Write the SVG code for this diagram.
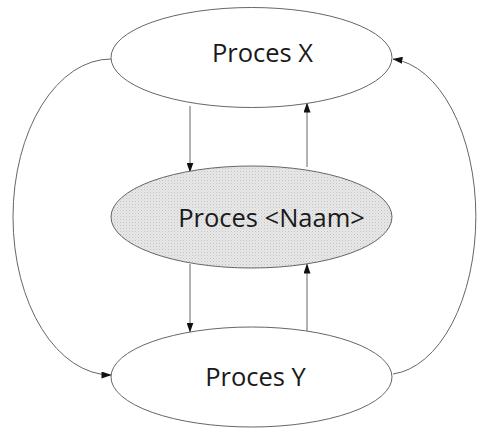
<svg xmlns="http://www.w3.org/2000/svg" width="479" height="430" viewBox="0 0 479 430">
  <style>
    .node { fill: #ffffff; stroke: #666666; stroke-width: 1; }
    .label { font-family: "Open Sans", "DejaVu Sans", sans-serif; font-size: 25.5px; fill: #1a1a1a; text-anchor: middle; }
    .edge { fill: none; stroke: #666666; stroke-width: 1; marker-end: url(#arrow); }
  </style>
  <defs>
    <marker id="arrow" viewBox="0 0 10 7" refX="9.5" refY="3.5" markerWidth="10" markerHeight="7" markerUnits="userSpaceOnUse" orient="auto">
      <path d="M0,0 L10,3.5 L0,7 Z" fill="#111111"/>
    </marker>
    <!-- light stippled fill for the central process -->
    <pattern id="stipple" width="3" height="3" patternUnits="userSpaceOnUse">
      <rect width="3" height="3" fill="#e8e8e8"/>
      <rect x="0" y="0" width="1" height="1" fill="#c2c2c2"/>
      <rect x="1.5" y="1.5" width="1" height="1" fill="#d0d0d0"/>
    </pattern>
  </defs>
  <rect width="479" height="430" fill="#ffffff"/>

  <g id="connectors">
    <!-- X -> Naam, Naam -> X -->
    <line class="edge" x1="190" y1="106" x2="190" y2="172"/>
    <line class="edge" x1="307" y1="167" x2="307" y2="103"/>
    <!-- Naam -> Y, Y -> Naam -->
    <line class="edge" x1="190" y1="264" x2="190" y2="332"/>
    <line class="edge" x1="307" y1="331" x2="307" y2="264"/>
    <!-- outer loops -->
    <path class="edge" d="M111,59 A98,158 0 0 0 111,375"/>
    <path class="edge" d="M393,374 A90,158 0 0 0 393,59"/>
  </g>

  <g id="proces-x">
    <ellipse class="node" cx="251.5" cy="57.5" rx="140.5" ry="50"/>
    <text class="label" x="262.5" y="62">Proces X</text>
  </g>

  <g id="proces-naam">
    <ellipse class="node" cx="251.5" cy="217" rx="140.5" ry="51" style="fill:url(#stipple)"/>
    <text class="label" x="271.5" y="227">Proces &lt;Naam&gt;</text>
  </g>

  <g id="proces-y">
    <ellipse class="node" cx="251.5" cy="377" rx="140.5" ry="50"/>
    <text class="label" x="255.5" y="386">Proces Y</text>
  </g>
</svg>
